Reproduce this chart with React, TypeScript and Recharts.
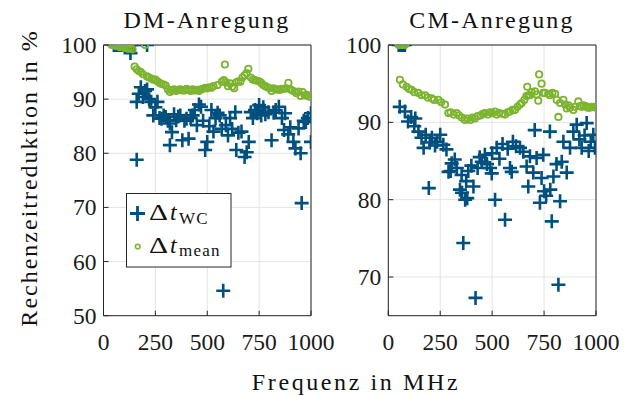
import { ScatterChart, Scatter, XAxis, YAxis, CartesianGrid, Legend } from 'recharts'

const FONT = '"Liberation Serif", "DejaVu Serif", serif'
const BLUE = '#00507f'
const GREEN = '#7cb42f'
const AXIS = '#262626'
const GRID = '#e4e4e4'

const freqTicks = [0, 250, 500, 750, 1000]
const dmTicks = [50, 60, 70, 80, 90, 100]
const cmTicks = [70, 80, 90, 100]

// [Frequenz in MHz, Rechenzeitreduktion in %]
const dmWorstCase: [number, number][] = [
  [50, 100], [60, 100], [70, 100], [80, 100], [90, 100], [100, 100], [110, 99.8], [120, 100],
  [130, 98.5], [140, 100], [150, 100], [210, 100],
  [160, 89.5], [160, 78.8], [170, 91], [180, 92.2], [190, 90.4], [200, 91.5], [210, 91.8],
  [220, 90.0], [230, 89.5], [240, 87], [250, 88.5], [260, 89.5], [270, 86.5], [280, 86.4],
  [290, 87.0], [300, 86.7], [310, 86.0], [320, 85.5], [320, 81.5], [330, 83.9], [340, 87.2],
  [350, 86.1], [360, 86.8], [370, 87.0], [380, 82.4], [390, 86.0], [400, 86.4], [410, 82.7],
  [420, 86.5], [430, 87.0], [440, 88.0], [450, 85.2], [460, 89.0], [470, 88.6], [480, 86.0],
  [490, 80.6], [500, 82.1], [510, 85.0], [520, 88.0], [530, 84.0], [540, 86.5], [550, 87.5],
  [560, 87], [570, 84.5], [577, 54.6], [590, 85.2], [600, 83.3], [610, 86.5], [620, 84.5],
  [635, 87.6], [640, 80.6], [650, 83.8], [665, 84.0], [680, 79.3], [690, 80.2], [700, 82.1],
  [710, 87.6], [720, 86.5], [730, 88.0], [740, 87.4], [750, 88.9], [760, 87.0], [770, 88.5],
  [780, 87.2], [795, 87.6], [810, 82.4], [820, 87.5], [830, 88.0], [845, 88.6], [860, 86.5],
  [870, 84.3], [875, 87.4], [890, 83.5], [900, 84.8], [915, 82.1], [925, 80.9], [940, 84.6],
  [950, 80.0], [955, 70.8], [965, 86.0], [975, 85.8], [985, 86.5], [1000, 87.4], [1000, 82.1],
]

const dmMean: [number, number][] = [
  [40, 100], [50, 100], [60, 99.8], [70, 99.8], [80, 99.6], [90, 99.6], [100, 99.5], [110, 99.4],
  [120, 99.3], [130, 99.4], [140, 99.2], [200, 100],
  [150, 96.0], [160, 95.5], [170, 95.2], [180, 95.0], [190, 94.6], [210, 94.2], [220, 94.0],
  [230, 93.8], [240, 93.6], [250, 93.6], [260, 93.3], [270, 93.0], [280, 92.8], [290, 92.7],
  [300, 92.5], [310, 91.8], [320, 91.3], [330, 91.6], [340, 91.8], [350, 91.5], [360, 91.7],
  [370, 91.8], [380, 91.6], [390, 91.6], [400, 91.9], [410, 91.7], [420, 91.5], [430, 91.8],
  [440, 91.6], [450, 91.7], [460, 91.5], [470, 91.8], [480, 91.9], [490, 92.1], [500, 92.0],
  [510, 92.2], [520, 92.1], [530, 92.4], [550, 92.6], [570, 93.2], [585, 96.4], [580, 93.5],
  [590, 93.1], [600, 92.4], [610, 92.9], [620, 92.3], [630, 92.0], [640, 93.1], [650, 93.3],
  [660, 93.2], [670, 94.0], [680, 94.4], [690, 94.8], [698, 95.6], [710, 94.0], [720, 93.6],
  [730, 93.5], [740, 93.4], [750, 93.3], [760, 93.0], [770, 92.6], [780, 92.4], [790, 92.2],
  [800, 92.0], [810, 91.5], [820, 92.0], [830, 91.8], [840, 91.8], [850, 91.7], [860, 91.9],
  [870, 91.9], [880, 92.0], [891, 93.0], [900, 91.8], [910, 91.6], [920, 91.4], [930, 91.1],
  [940, 91.4], [950, 90.6], [960, 91.3], [970, 90.7], [980, 90.8], [990, 90.5], [1000, 90.4],
]

const cmWorstCase: [number, number][] = [
  [50, 100], [60, 100], [70, 100], [80, 100],
  [55, 92.0], [80, 91.4], [95, 90.1], [110, 90.7], [125, 89.5], [130, 90.5], [145, 88.8],
  [160, 88.0], [170, 86.7], [180, 88.4], [195, 81.5], [200, 87.4], [210, 88.0], [225, 87.0],
  [235, 87.5], [250, 88.4], [265, 87.1], [280, 86.5], [290, 83.6], [300, 83.7], [305, 84.7],
  [320, 85.2], [330, 84.1], [345, 81.3], [353, 83.2], [355, 80.9], [361, 74.4], [370, 80.0],
  [375, 82.4], [380, 80.2], [385, 83.7], [400, 84.4], [410, 81.7], [420, 67.3], [430, 84.1],
  [440, 85.5], [450, 84.9], [465, 85.8], [475, 84.6], [490, 84.1], [498, 83.4], [500, 86.0],
  [514, 80.0], [522, 86.7], [535, 85.3], [550, 87.2], [562, 77.4], [575, 86.6], [586, 84.1],
  [594, 83.6], [600, 87.5], [615, 86.9], [634, 86.7], [650, 86.2], [666, 84.3], [674, 81.7],
  [682, 85.6], [698, 83.5], [705, 89.0], [714, 85.4], [730, 79.6], [738, 82.8], [746, 85.8],
  [750, 81.1], [760, 80.5], [778, 88.8], [780, 81.3], [787, 77.2], [795, 83.0], [810, 84.6],
  [819, 69.0], [827, 79.8], [835, 84.9], [843, 87.5], [859, 83.5], [875, 86.7], [891, 88.8],
  [907, 89.7], [920, 87.8], [931, 86.7], [945, 88.3], [955, 89.9], [965, 86.3], [975, 87.5],
  [987, 88.4], [995, 86.7],
]

const cmMean: [number, number][] = [
  [50, 100], [60, 100], [70, 100], [80, 100],
  [56, 95.5], [70, 94.9], [88, 94.6], [100, 94.3], [112, 94.2], [125, 93.9], [144, 93.8],
  [160, 93.5], [177, 93.5], [190, 93.2], [209, 93.1], [220, 92.9], [241, 92.9], [255, 92.6],
  [273, 92.3], [289, 91.2], [300, 91.3], [315, 91.0], [329, 91.2], [340, 90.9], [355, 90.6],
  [369, 90.3], [380, 90.5], [395, 90.3], [405, 90.6], [417, 90.5], [430, 90.8], [445, 90.9],
  [455, 91.1], [465, 91.2], [480, 91.0], [490, 91.3], [500, 91.2], [514, 91.4], [522, 91.0],
  [535, 91.2], [550, 91.1], [562, 91.0], [575, 91.3], [586, 91.4], [598, 91.6], [610, 91.6],
  [622, 92.0], [634, 92.3], [642, 92.5], [655, 92.9], [665, 93.4], [669, 94.6], [674, 93.5],
  [682, 93.5], [690, 93.9], [706, 94.0], [714, 93.6], [722, 92.8], [726, 96.2], [738, 95.0],
  [746, 93.8], [754, 93.8], [770, 93.7], [778, 93.5], [790, 93.8], [803, 93.7], [811, 92.9],
  [819, 90.7], [827, 92.5], [843, 92.9], [851, 92.3], [859, 91.8], [867, 92.2], [875, 91.9],
  [891, 91.6], [899, 92.0], [915, 92.7], [923, 92.1], [931, 92.0], [940, 92.2], [950, 92.1],
  [960, 91.9], [970, 91.9], [980, 92.0], [990, 92.0], [1000, 91.9],
]

const seriesOrder = ['wc', 'mean']
const subscripts: Record<string, string> = { wc: 'WC', mean: 'mean' }

const toPoints = (rows: [number, number][]) => rows.map(([f, v]) => ({ f, v }))

function PlusShape(props: any) {
  const { cx, cy } = props
  return (
    <path
      d={`M${cx - 7},${cy}H${cx + 7}M${cx},${cy - 7}V${cy + 7}`}
      stroke={BLUE}
      strokeWidth={2.6}
      fill="none"
    />
  )
}

function RingShape(props: any) {
  const { cx, cy } = props
  return <circle cx={cx} cy={cy} r={3.2} fill="none" stroke={GREEN} strokeWidth={1.8} />
}

function XTick({ x, y, payload }: any) {
  return (
    <g>
      <line x1={x} x2={x} y1={y} y2={y - 5} stroke={AXIS} />
      <text x={x} y={y + 34} textAnchor="middle" fontFamily={FONT} fontSize={23.5} fill="#1a1a1a">
        {payload.value}
      </text>
    </g>
  )
}

function YTick({ x, y, payload }: any) {
  return (
    <g>
      <line x1={x} x2={x + 5} y1={y} y2={y} stroke={AXIS} />
      <text x={x - 7} y={y + 8} textAnchor="end" fontFamily={FONT} fontSize={23.5} fill="#1a1a1a">
        {payload.value}
      </text>
    </g>
  )
}

function DmLegend({ payload }: any) {
  const entries = [...(payload || [])].sort(
    (a: any, b: any) => seriesOrder.indexOf(a.value) - seriesOrder.indexOf(b.value)
  )
  return (
    <svg width={106} height={75} style={{ display: 'block' }}>
      <rect x={0.5} y={0.5} width={104.5} height={73.5} fill="#fff" stroke={AXIS} strokeWidth={1} />
      {entries.map((entry: any, i: number) => {
        const cy = 20.5 + i * 33
        const base = 27 + i * 32.7
        return (
          <g key={entry.value}>
            {entry.value === 'wc' ? (
              <path d={`M${4},${cy}H${19}M${11.5},${cy - 7.5}V${cy + 7.5}`} stroke={BLUE} strokeWidth={2.8} fill="none" />
            ) : (
              <circle cx={11.7} cy={cy} r={2.3} fill="none" stroke={GREEN} strokeWidth={1.6} />
            )}
            <text x={23} y={base} fontFamily={FONT} fontSize={24} fill="#111" textLength={19} lengthAdjust="spacingAndGlyphs">
              Δ
            </text>
            <text y={base} fontFamily={FONT} fontSize={24} fill="#111">
              <tspan x={44} fontStyle="italic">t</tspan>
              <tspan x={53} y={base + 3.5} fontSize={17} letterSpacing={1.2}>{subscripts[entry.value]}</tspan>
            </text>
          </g>
        )
      })}
    </svg>
  )
}

interface PanelProps {
  left: number
  width: number
  yAxisWidth: number
  marginRight: number
  yDomain: [number, number]
  yTicks: number[]
  wc: [number, number][]
  mean: [number, number][]
  legend?: boolean
}

function Panel({ left, width, yAxisWidth, marginRight, yDomain, yTicks, wc, mean, legend }: PanelProps) {
  return (
    <div style={{ position: 'absolute', left, top: 0 }}>
      <ScatterChart width={width} height={396} margin={{ top: 45, right: marginRight, bottom: 0, left: 0 }}>
        <CartesianGrid stroke={GRID} strokeWidth={1} />
        <XAxis
          type="number"
          dataKey="f"
          domain={[0, 1000]}
          ticks={freqTicks}
          height={80.3}
          stroke={AXIS}
          tickLine={false}
          tickSize={0}
          tickMargin={0}
          tick={<XTick />}
          allowDataOverflow
        />
        <XAxis
          xAxisId="top"
          orientation="top"
          mirror
          type="number"
          domain={[0, 1000]}
          ticks={freqTicks}
          stroke={AXIS}
          tickSize={5}
          tickFormatter={() => ''}
        />
        <YAxis
          type="number"
          dataKey="v"
          domain={yDomain}
          ticks={yTicks}
          width={yAxisWidth}
          stroke={AXIS}
          tickLine={false}
          tickSize={0}
          tickMargin={0}
          tick={<YTick />}
          allowDataOverflow
        />
        <YAxis
          yAxisId="right"
          orientation="right"
          mirror
          type="number"
          domain={yDomain}
          ticks={yTicks}
          stroke={AXIS}
          tickSize={5}
          tickFormatter={() => ''}
        />
        <Scatter name="wc" data={toPoints(wc)} shape={<PlusShape />} isAnimationActive={false} fill={BLUE} />
        <Scatter name="mean" data={toPoints(mean)} shape={<RingShape />} isAnimationActive={false} fill={GREEN} />
        {legend && (
          <Legend
            layout="horizontal"
            verticalAlign="middle"
            align="center"
            content={<DmLegend />}
            wrapperStyle={{ left: 126, top: 192.5, width: 106, height: 75 }}
          />
        )}
      </ScatterChart>
    </div>
  )
}

export default function App() {
  const textStyle = { fontFamily: FONT, fontSize: 24, fill: '#111' }
  return (
    <div style={{ position: 'absolute', left: 0, top: 0, width: 632, height: 396, background: '#fff' }}>
      <Panel
        left={0}
        width={340}
        yAxisWidth={103.5}
        marginRight={29}
        yDomain={[50, 100]}
        yTicks={dmTicks}
        wc={dmWorstCase}
        mean={dmMean}
        legend
      />
      <Panel
        left={320}
        width={312}
        yAxisWidth={68.3}
        marginRight={36}
        yDomain={[65, 100]}
        yTicks={cmTicks}
        wc={cmWorstCase}
        mean={cmMean}
      />
      <svg width={632} height={396} style={{ position: 'absolute', left: 0, top: 0, pointerEvents: 'none' }}>
        <text x={207} y={28} textAnchor="middle" letterSpacing={2.2} {...textStyle}>DM-Anregung</text>
        <text x={492} y={28} textAnchor="middle" letterSpacing={2.2} {...textStyle}>CM-Anregung</text>
        <text x={356} y={390} textAnchor="middle" letterSpacing={2.6} {...textStyle}>Frequenz in MHz</text>
        <text
          x={0}
          y={0}
          transform="translate(36.5,178) rotate(-90)"
          textAnchor="middle"
          letterSpacing={2.0}
          {...textStyle}
        >
          Rechenzeitreduktion in %
        </text>
      </svg>
    </div>
  )
}
